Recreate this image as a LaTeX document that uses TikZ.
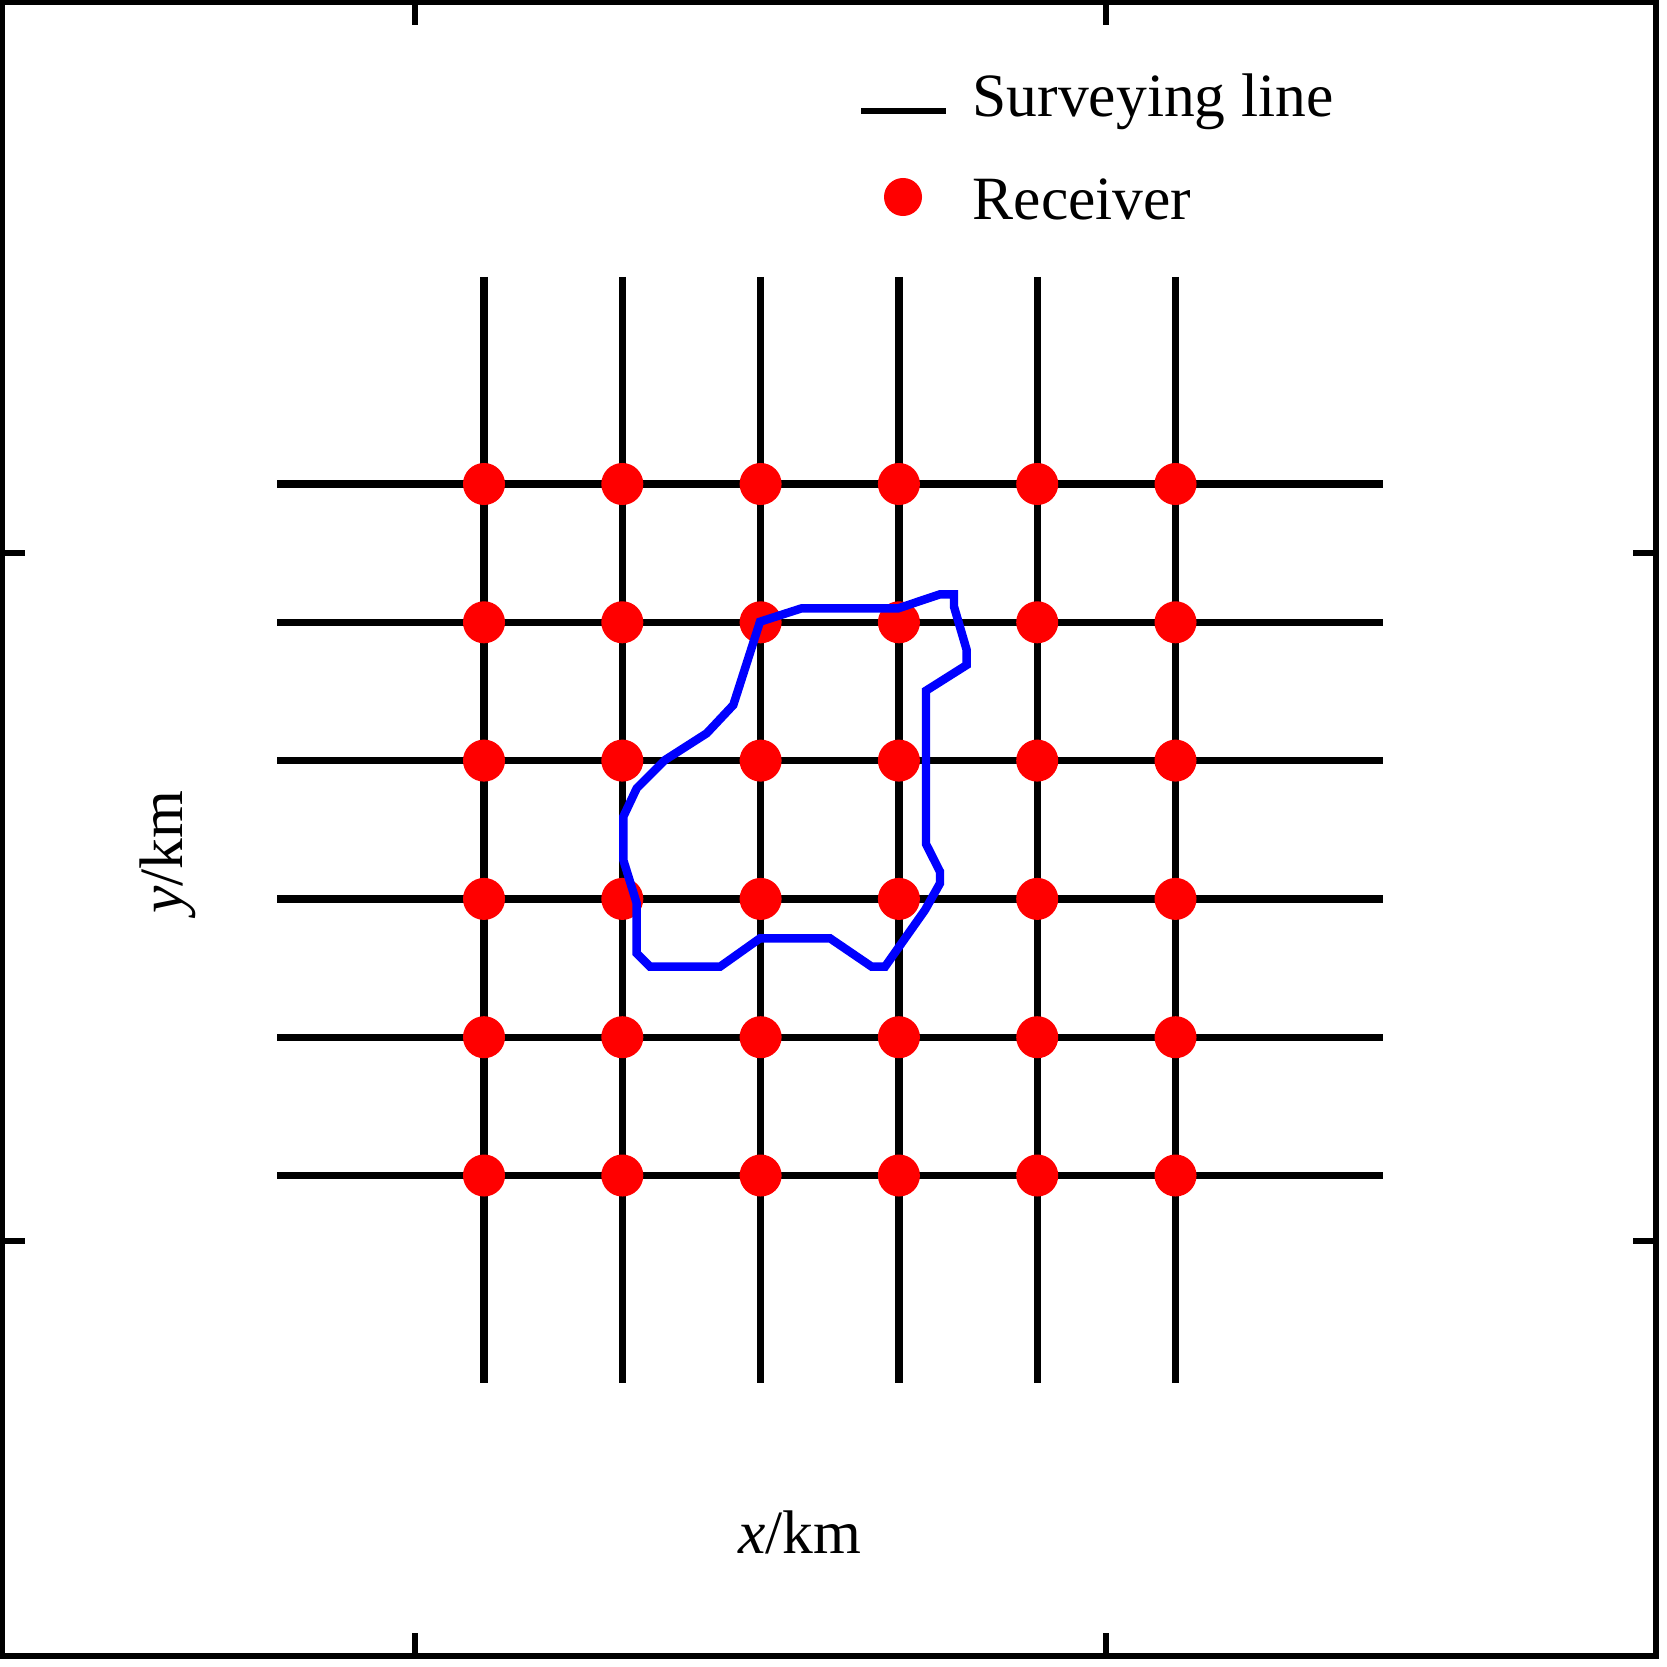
\documentclass[tikz,border=0pt]{standalone}
\usepackage{fontspec}
\setmainfont{Liberation Serif}
\usepackage{xcolor}
\usetikzlibrary{positioning}

\begin{document}
\begin{tikzpicture}[
  x=0.01cm, y=-0.01cm,
  survey/.style={line width=2.1pt, black},
  contour/.style={line width=2.4pt, draw=blue},
  receiver/.style={circle, fill=red, inner sep=0pt, minimum size=0.42cm},
  frame/.style={line width=1.6pt},
  tickmark/.style={line width=1.7pt},
  lbl/.style={inner sep=0pt, font=\fontsize{17.5}{21}\selectfont}
]
\useasboundingbox (0,0) rectangle (1667,1667);
% frame and ticks
\draw[frame] (2.5,2.5) rectangle (1656,1656);
\foreach \t in {415,1106} {
  \draw[tickmark] (\t,2.5) -- (\t,25);
  \draw[tickmark] (\t,1656) -- (\t,1633);
}
\foreach \t in {553,1241} {
  \draw[tickmark] (2.5,\t) -- (25,\t);
  \draw[tickmark] (1656,\t) -- (1633,\t);
}
% surveying lines
\foreach \i in {0,...,5} {
  \pgfmathsetmacro\p{484+138.3*\i}
  \coordinate (top\i) at (\p,277);
  \coordinate (bot\i) at (\p,1383);
  \coordinate (lft\i) at (277,\p);
  \coordinate (rgt\i) at (1383,\p);
  \draw[survey] (top\i) -- (bot\i);
  \draw[survey] (lft\i) -- (rgt\i);
}
% receivers
\foreach \i in {0,...,5}
  \foreach \j in {0,...,5}
    \node[receiver] (r\i\j) at (484+138.3*\i,484+138.3*\j) {};
% anomaly outline
\draw[contour] (760,621.7) -- (801.7,608.3) -- (898.3,608.3) -- (940,594.3)
  -- (954,594.3) -- (954,606.7) -- (966.7,650) -- (966.7,665) -- (926,690.7)
  -- (926,844) -- (940,871.7) -- (940,883.3) -- (925,910) -- (885,966.7)
  -- (871.7,966.7) -- (830,938.3) -- (760,938.3) -- (720,966.7)
  -- (650,966.7) -- (636.7,953.3) -- (636.7,903.3) -- (623.3,860)
  -- (623.3,816.7) -- (636.7,788.3) -- (665,760) -- (706.7,733.3)
  -- (733.3,705) -- cycle;
% legend
\coordinate (legA) at (861,111);
\coordinate (legB) at (946,111);
\draw[survey, line width=1.6pt] (legA) -- (legB);
\node[lbl, anchor=base west] (legline) at (972,117) {Surveying line};
\node[receiver, minimum size=0.38cm] (legdot) at (903,197) {};
\node[lbl, anchor=base west] (legrec) at (972,220) {Receiver};
% axis labels
\node[lbl, anchor=base] (xlab) at (800,1553) {\textit{x}/km};
\node[lbl, anchor=base, rotate=90] (ylab) at (182,852) {\textit{y}/km};
\end{tikzpicture}
\end{document}
